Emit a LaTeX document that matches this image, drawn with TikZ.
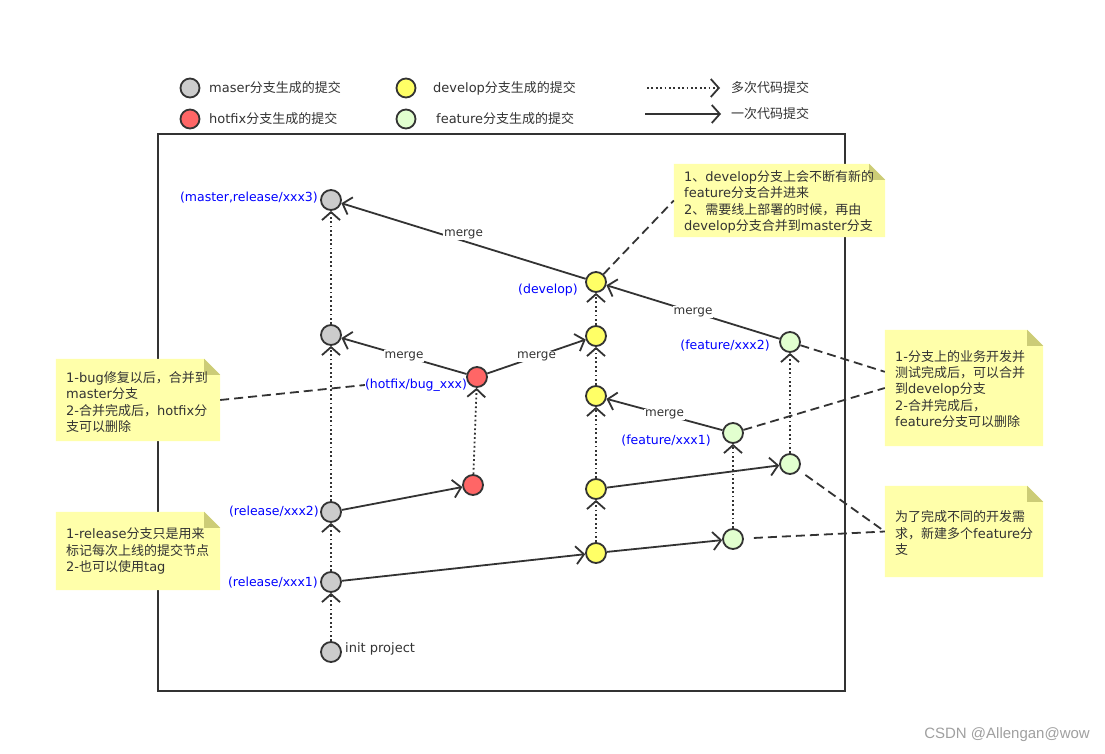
\documentclass[tikz,border=0pt]{standalone}
\usepackage{fontspec}
\setmainfont{DejaVu Sans}
\newfontfamily\cjk{Noto Sans CJK SC}
\newfontfamily\wmfont{Liberation Sans}
\newcommand\z[1]{{\cjk #1}}
\usetikzlibrary{arrows.meta,calc}
\definecolor{lc}{HTML}{333333}
\definecolor{grayc}{HTML}{CCCCCC}
\definecolor{redc}{HTML}{FF6666}
\definecolor{yelc}{HTML}{FFFF66}
\definecolor{grnc}{HTML}{E2FFCF}
\definecolor{notec}{HTML}{FFFFAA}
\definecolor{foldc}{HTML}{CCCC77}
\definecolor{bluec}{HTML}{0000FF}
\definecolor{wmc}{HTML}{A0A0A0}
\tikzset{
  commit/.style={circle, draw=lc, line width=1.8pt, minimum size=20pt, inner sep=0pt},
  mc/.style={commit, fill=grayc},
  hc/.style={commit, fill=redc},
  dc/.style={commit, fill=yelc},
  fc/.style={commit, fill=grnc},
  onecommit/.style={draw=lc, line width=1.8pt, -{Straight Barb[length=8pt,width=18pt,line width=1.8pt]}},
  manycommit/.style={onecommit, dash pattern=on 1.8pt off 2.6pt},
  mlabel/.style={fill=white, inner sep=1pt, text=lc, font=\fontsize{12}{14}\selectfont},
  blab/.style={text=bluec, inner sep=0pt, font=\fontsize{12.5}{14}\selectfont},
  notebox/.style={draw=none, fill=none, inner sep=0pt},
  notetext/.style={anchor=west, inner sep=0pt, align=left, text=lc, font=\fontsize{13}{16.4}\selectfont},
  legtext/.style={anchor=west, inner sep=0pt, text=lc, font=\fontsize{13}{15}\selectfont},
  notelink/.style={draw=lc, line width=1.8pt, dash pattern=on 9pt off 5pt},
}
\newcommand\notebg[1]{%
  \fill[notec] (#1.north west) -- ($(#1.north east)+(-16,0)$) -- ($(#1.north east)+(0,16)$) -- (#1.south east) -- (#1.south west) -- cycle;
  \fill[foldc] ($(#1.north east)+(-16,0)$) -- ($(#1.north east)+(-16,16)$) -- ($(#1.north east)+(0,16)$) -- cycle;}
\begin{document}
\begin{tikzpicture}[x=1pt,y=-1pt]
\useasboundingbox (0,0) rectangle (1105,754);
\fill[white] (0,0) rectangle (1105,754);

% legend
\node[mc, minimum size=19pt] (lg1) at (190,88) {};
\node[legtext] (lt1) at (209,88) {maser\z{分支生成的提交}};
\node[hc, minimum size=19pt] (lg2) at (190,119) {};
\node[legtext] (lt2) at (209,119) {hotfix\z{分支生成的提交}};
\node[dc, minimum size=19pt] (lg3) at (406,88) {};
\node[legtext] (lt3) at (433,88) {develop\z{分支生成的提交}};
\node[fc, minimum size=19pt] (lg4) at (406,119) {};
\node[legtext] (lt4) at (436,119) {feature\z{分支生成的提交}};
\coordinate (la1) at (647,88); \coordinate (lb1) at (720,88);
\coordinate (la2) at (645,114); \coordinate (lb2) at (721,114);
\draw[manycommit] (la1) -- (lb1);
\draw[onecommit] (la2) -- (lb2);
\node[legtext] (lt5) at (731,88) {\z{多次代码提交}};
\node[legtext] (lt6) at (731,114) {\z{一次代码提交}};

% frame
\draw[lc, line width=2pt] (158,134) rectangle (845,691);

% notes
\node[notebox, minimum width=211pt, minimum height=73pt] (n1) at (779.5,200.5) {};
\node[notebox, minimum width=158pt, minimum height=116pt] (n2) at (964,388) {};
\node[notebox, minimum width=164pt, minimum height=82pt] (n3) at (138,400) {};
\node[notebox, minimum width=164pt, minimum height=78pt] (n4) at (138,551) {};
\node[notebox, minimum width=158pt, minimum height=91pt] (n5) at (964,531.5) {};
\notebg{n1}\notebg{n2}\notebg{n3}\notebg{n4}\notebg{n5}
\node[notetext] (t1) at (684,202) {1\z{、}develop\z{分支上会不断有新的}\\feature\z{分支合并进来}\\2\z{、需要线上部署的时候，再由}\\develop\z{分支合并到}master\z{分支}};
\node[notetext] (t2) at (895,389) {1-\z{分支上的业务开发并}\\\z{测试完成后，可以合并}\\\z{到}develop\z{分支}\\2-\z{合并完成后，}\\feature\z{分支可以删除}};
\node[notetext] (t3) at (66,402) {1-bug\z{修复以后，合并到}\\master\z{分支}\\2-\z{合并完成后，}hotfix\z{分}\\\z{支可以删除}};
\node[notetext] (t4) at (66,551) {1-release\z{分支只是用来}\\\z{标记每次上线的提交节点}\\2-\z{也可以使用}tag};
\node[notetext] (t5) at (895,533) {\z{为了完成不同的开发需}\\\z{求，新建多个}feature\z{分}\\\z{支}};

% commits
\node[mc] (m3) at (331,200) {};
\node[mc] (m2) at (331,335) {};
\node[mc] (rel2) at (331,512) {};
\node[mc] (rel1) at (331,582) {};
\node[mc] (init) at (331,652) {};
\node[hc] (h2) at (477,377) {};
\node[hc] (h1) at (473,485) {};
\node[dc] (d5) at (596,282) {};
\node[dc] (d4) at (596,336) {};
\node[dc] (d3) at (596,396) {};
\node[dc] (d2) at (596,489) {};
\node[dc] (d1) at (596,553) {};
\node[fc] (f1b) at (733,433) {};
\node[fc] (f1a) at (733,539) {};
\node[fc] (f2b) at (790,342) {};
\node[fc] (f2a) at (790,464) {};

% labels
\node[blab, anchor=east] (lm3) at (318,198) {(master,release/xxx3)};
\node[blab] (ld5) at (548,290) {(develop)};
\node[blab] (lf2) at (725,346) {(feature/xxx2)};
\node[blab] (lh) at (416,385) {(hotfix/bug\_xxx)};
\node[blab] (lf1) at (666,441) {(feature/xxx1)};
\node[blab, anchor=east] (lr2) at (319,512) {(release/xxx2)};
\node[blab, anchor=east] (lr1) at (318,583) {(release/xxx1)};
\node[anchor=west, inner sep=0pt, text=lc, font=\fontsize{13}{15}\selectfont] (linit) at (345,649) {init project};

% note links
\draw[notelink] (d5) -- (n1.west);
\draw[notelink] (f2b) -- ($(n2.north west)+(0,42)$);
\draw[notelink] (f1b) -- (n2.west);
\draw[notelink] (n3.east) -- (lh.west);
\draw[notelink, shorten <=8pt] (f2a) -- (n5.west);
\draw[notelink, shorten <=10pt] (f1a) -- (n5.west);

% master / release line
\draw[manycommit] (init) -- (rel1);
\draw[manycommit] (rel1) -- (rel2);
\draw[manycommit] (rel2) -- (m2);
\draw[manycommit] (m2) -- (m3);
% hotfix
\draw[onecommit] (rel2) -- (h1);
\draw[manycommit] (h1) -- (h2);
\draw[onecommit] (h2) -- node[mlabel] {merge} (m2);
\draw[onecommit] (h2) -- node[mlabel] {merge} (d4);
% develop
\draw[onecommit] (rel1) -- (d1);
\draw[manycommit] (d1) -- (d2);
\draw[manycommit] (d2) -- (d3);
\draw[manycommit] (d3) -- (d4);
\draw[manycommit] (d4) -- (d5);
% features
\draw[onecommit] (d1) -- (f1a);
\draw[manycommit] (f1a) -- (f1b);
\draw[onecommit] (d2) -- (f2a);
\draw[manycommit] (f2a) -- (f2b);
\draw[onecommit] (f1b) -- node[mlabel] {merge} (d3);
\draw[onecommit] (f2b) -- node[mlabel] {merge} (d5);
\draw[onecommit] (d5) -- node[mlabel, yshift=7pt] {merge} (m3);

% watermark
\node[anchor=east, inner sep=0pt, text=wmc, font=\wmfont\fontsize{15}{17}\selectfont] (wm) at (1090,735) {CSDN @Allengan@wow};
\end{tikzpicture}
\end{document}
